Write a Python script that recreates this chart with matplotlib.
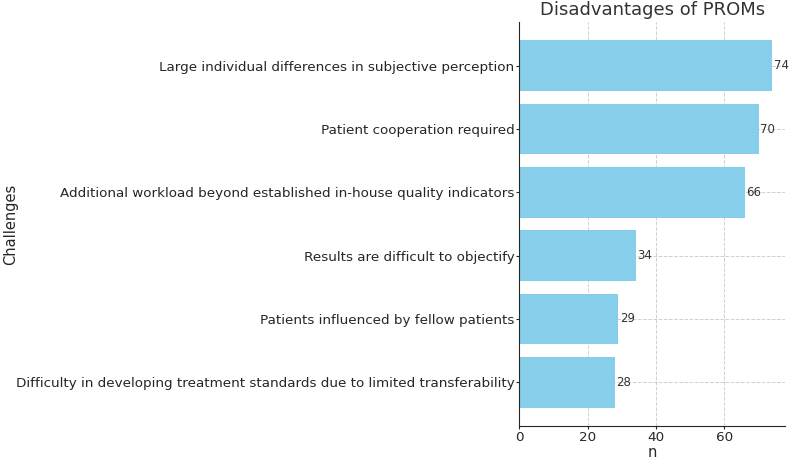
import matplotlib
matplotlib.use("Agg")
from matplotlib import pyplot as plt

challenges = [
    "Difficulty in developing treatment standards due to limited transferability",
    "Patients influenced by fellow patients",
    "Results are difficult to objectify",
    "Additional workload beyond established in-house quality indicators",
    "Patient cooperation required",
    "Large individual differences in subjective perception",
]
counts = [28, 29, 34, 66, 70, 74]

fig = plt.figure(figsize=(7.89, 4.61), dpi=100)
ax = fig.add_axes([0.658, 0.076, 0.337, 0.876])

bars = ax.barh(challenges, counts, color="skyblue", height=0.8, zorder=2)
for b, v in zip(bars, counts):
    ax.text(b.get_width() + 0.4, b.get_y() + b.get_height() / 2, str(v),
            va="center", ha="left", fontsize=8.5, color="#333333")

# grid sits on top of the bars, faint
ax.grid(True, linestyle="--", color="#b0b0b0", linewidth=0.7, alpha=0.6, zorder=3)
for s in ["top", "right"]:
    ax.spines[s].set_visible(False)
ax.spines["left"].set_color("#262626")
ax.spines["bottom"].set_color("#262626")
ax.tick_params(colors="#262626", labelsize=9.7, length=2, pad=1.5)
ax.set_xticks([0, 20, 40, 60])

ax.set_title("Disadvantages of PROMs", fontsize=13, color="#333333", pad=5)
ax.set_xlabel("n", fontsize=10.5, color="#262626", labelpad=1)
ax.set_ylabel("Challenges", fontsize=10.5, color="#262626")
ax.yaxis.set_label_coords(-1.885, 0.5, transform=ax.transAxes)

fig.savefig("out.png", dpi=100)
